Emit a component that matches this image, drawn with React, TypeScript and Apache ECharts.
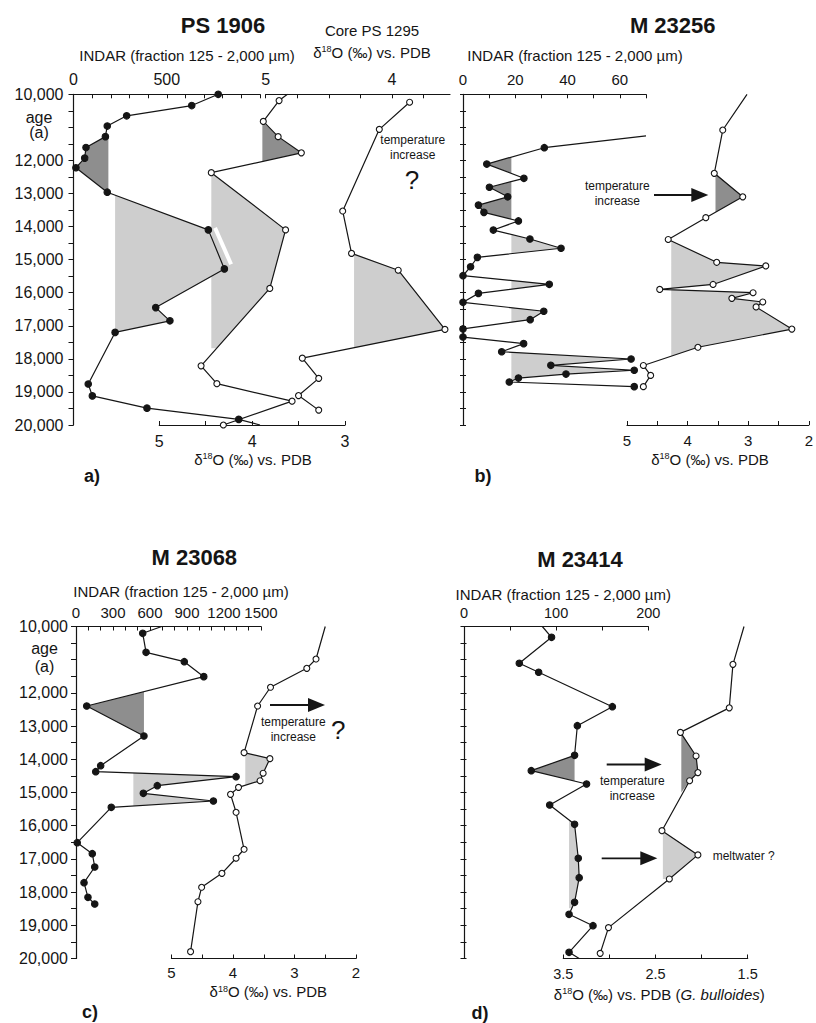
import React, { useEffect, useRef } from 'react';
import * as echarts from 'echarts';

const FONT = "'Liberation Sans', Arial, Helvetica, sans-serif";
const INK = '#151515';
const DARK = '#8e8e8e';
const LIGHT = '#cecece';

type Pt = [number, number];

// ---------- a) PS 1906 (INDAR + d18O) and PS 1295 (d18O) ----------
const ps1906IndarAge = [10000, 10340, 10650, 10960, 11280, 11610, 11930, 12220, 12960, 14100, 15280, 16450, 16850, 17200, 18760, 19120, 19490, 19830, 20000];
const ps1906Indar = [776, 634, 285, 181, 171, 67, 60, 13, 181, 723, 809, 441, 517, 223, 79, 101, 394, 886, 1000];
const ps1906D18Age = [10000, 10190, 10820, 11280, 11770, 12370, 14100, 15870, 18210, 18750, 19280, 20000];
const ps1906D18 = [3.62, 3.71, 3.88, 3.72, 3.47, 4.44, 3.64, 3.81, 4.55, 4.38, 3.57, 4.31];
const ps1295Age = [10240, 11060, 13530, 14810, 15320, 17110, 17980, 18590, 19110, 19550];
const ps1295D18 = [3.86, 4.10, 4.39, 4.32, 3.95, 3.58, 4.71, 4.58, 4.74, 4.58];

const ps1906IndarDark: Pt[] = [[187, 11280], [171, 11280], [67, 11610], [60, 11930], [13, 12220], [181, 12960], [187, 12960]];
const ps1906IndarLight: Pt[] = [[223, 13050], [723, 14100], [809, 15280], [441, 16450], [517, 16850], [223, 17200]];
const ps1906D18Dark: Pt[] = [[3.89, 10820], [3.72, 11280], [3.47, 11770], [3.89, 12030]];
const ps1906D18Light: Pt[] = [[4.44, 12370], [3.64, 14100], [3.81, 15870], [4.38, 17680], [4.44, 17680]];
const ps1295Light: Pt[] = [[4.30, 14810], [3.95, 15320], [3.58, 17110], [4.30, 17670]];
const ps1906Gap: Pt[] = [[759, 14040], [845, 15140]];

// ---------- b) M 23256 ----------
const m23256IndarAge = [11260, 11615, 12110, 12540, 12810, 13100, 13350, 13570, 13830, 14105, 14375, 14655, 14930, 15215, 15485, 15745, 16020, 16290, 16560, 16815, 17095, 17340, 17540, 17785, 18005, 18195, 18345, 18460, 18580, 18700, 18840];
const m23256Indar = [70, 31.1, 9.1, 23.3, 10.1, 17.1, 5.9, 8.0, 21.2, 11.6, 25.6, 37.5, 5.5, 2.9, 0, 33.0, 5.9, 0, 30.9, 25.7, 0, 0, 23.2, 14.8, 64.3, 33.6, 65.5, 39.4, 21.2, 17.7, 65.5];
const m23256D18Age = [10000, 11080, 12390, 13100, 13730, 14390, 15080, 15190, 15750, 15900, 16000, 16170, 16280, 16430, 17100, 17650, 18200, 18500, 18840];
const m23256D18 = [3.02, 3.42, 3.56, 3.09, 3.70, 4.32, 3.52, 2.71, 3.58, 4.46, 2.92, 3.27, 2.76, 2.87, 2.28, 3.83, 4.73, 4.61, 4.73];

const m23256IndarDark1: Pt[] = [[18.5, 11900], [9.1, 12110], [18.5, 12390]];
const m23256IndarDark2: Pt[] = [[18.5, 12640], [10.1, 12810], [17.1, 13100], [5.9, 13350], [8.0, 13570], [18.5, 13780]];
const m23256IndarLight1: Pt[] = [[18.5, 14240], [25.6, 14375], [37.5, 14655], [18.5, 14820]];
const m23256IndarLight2: Pt[] = [[18.5, 15630], [33.0, 15745], [18.5, 15890]];
const m23256IndarLight3: Pt[] = [[18.5, 16450], [30.9, 16560], [25.7, 16815], [18.5, 16900]];
const m23256IndarLight4: Pt[] = [[18.5, 17800], [64.3, 18005], [33.6, 18195], [65.5, 18345], [39.4, 18460], [21.2, 18580], [18.5, 18670]];
const m23256D18Dark: Pt[] = [[3.54, 12390], [3.09, 13100], [3.54, 13570]];
const m23256D18Light: Pt[] = [[4.27, 14430], [3.52, 15080], [2.71, 15190], [3.58, 15750], [4.27, 15865], [4.27, 15910], [2.92, 16000], [3.27, 16170], [2.76, 16280], [2.87, 16430], [2.28, 17100], [3.83, 17650], [4.27, 17920]];

// ---------- c) M 23068 ----------
const m23068IndarAge = [10000, 10205, 10777, 11060, 11511, 12395, 13298, 14193, 14373, 14524, 14795, 15024, 15256, 15446, 16512, 16843, 17244, 17717, 18157, 18358];
const m23068Indar = [695, 541, 568, 878, 1036, 87, 551, 200, 160, 1298, 659, 546, 1114, 286, 10, 132, 152, 65, 97, 152];
const m23068D18Age = [10000, 10980, 11260, 11830, 12395, 13800, 13980, 14420, 14645, 14845, 15055, 15595, 16710, 16980, 17435, 17855, 18290, 19795];
const m23068D18 = [2.50, 2.65, 2.80, 3.39, 3.60, 3.82, 3.40, 3.51, 3.56, 3.91, 4.04, 3.95, 3.82, 3.95, 4.18, 4.51, 4.57, 4.69];

const m23068IndarDark: Pt[] = [[551, 11963], [87, 12395], [551, 13298]];
const m23068IndarLight: Pt[] = [[465, 14413], [1298, 14524], [659, 14795], [546, 15024], [1114, 15256], [465, 15405]];
const m23068D18Light: Pt[] = [[3.80, 13800], [3.40, 13980], [3.51, 14420], [3.56, 14645], [3.80, 14780]];

// ---------- d) M 23414 ----------
const m23414IndarAge = [10000, 10325, 11108, 11379, 12416, 12988, 13880, 14343, 14744, 15376, 15958, 16982, 17566, 18307, 18669, 19012, 19813, 20000];
const m23414Indar = [85, 95, 60, 81, 161, 123, 120, 73, 133, 93, 120, 124, 125, 120, 114, 140, 114, 125];
const m23414D18Age = [10000, 11140, 12450, 13190, 13900, 14400, 14645, 16150, 16880, 17605, 19070, 19845];
const m23414D18 = [1.54, 1.66, 1.70, 2.23, 2.06, 2.04, 2.13, 2.43, 2.04, 2.35, 3.01, 3.10];

const m23414IndarDark: Pt[] = [[120, 13880], [73, 14343], [120, 14657]];
const m23414IndarLight: Pt[] = [[114, 15829], [120, 15958], [124, 16982], [125, 17566], [120, 18307], [117, 18488], [114, 18488]];
const m23414D18Dark: Pt[] = [[2.22, 13190], [2.06, 13900], [2.04, 14400], [2.13, 14645], [2.22, 15000]];
const m23414D18Light: Pt[] = [[2.42, 16150], [2.04, 16880], [2.35, 17605], [2.42, 17605]];

// ---------- axis ticks ----------
// 11,000 is left unlabelled: the "age (a)" caption sits there
const ageLabels = [10000, 12000, 13000, 14000, 15000, 16000, 17000, 18000, 19000, 20000];
const ageTicks = [10000, 10500, 11000, 11500, 12000, 12500, 13000, 13500, 14000, 14500, 15000, 15500, 16000, 16500, 17000, 17500, 18000, 18500, 19000, 19500, 20000];
const indarATicks = [0, 100, 200, 300, 400, 500, 600, 700, 800, 900, 1000];
const indarALabels = [0, 500];
const d18ATicks = [3, 3.5, 4, 4.5, 5];
const d18ALabels = [3, 4, 5];
const ps1295Ticks = [3.75, 4, 4.25, 4.5, 4.75, 5];
const ps1295Labels = [4, 5];
const indarBTicks = [0, 10, 20, 30, 40, 50, 60, 70];
const indarBLabels = [0, 20, 40, 60];
const d18BTicks = [2, 2.5, 3, 3.5, 4, 4.5, 5];
const d18BLabels = [2, 3, 4, 5];
const indarCTicks = [0, 100, 200, 300, 400, 500, 600, 700, 800, 900, 1000, 1100, 1200, 1300, 1400, 1500];
const indarCLabels = [0, 300, 600, 900, 1200, 1500];
const indarDTicks = [0, 50, 100, 150, 200];
const indarDLabels = [0, 100, 200];
const d18DTicks = [1.5, 2, 2.5, 3, 3.5];
const d18DLabels = [1.5, 2.5, 3.5];

// ---------- layout (grid boxes in px) ----------
const TOP_A = 94.3, H_A = 330.7;
const TOP_C = 626.5, H_C = 332;
const grids = [
  { left: 73.5, top: TOP_A, width: 186.5, height: H_A }, // 0 a INDAR
  { left: 159.3, top: TOP_A, width: 185.7, height: H_A }, // 1 a d18O PS 1906
  { left: 265.7, top: TOP_A, width: 184.3, height: H_A }, // 2 a d18O PS 1295
  { left: 463, top: TOP_A, width: 183, height: H_A }, // 3 b INDAR
  { left: 466, top: TOP_A, width: 10, height: H_A }, // 4 b tick column
  { left: 627, top: TOP_A, width: 186, height: H_A }, // 5 b d18O
  { left: 76, top: TOP_C, width: 185, height: H_C }, // 6 c INDAR
  { left: 171.5, top: TOP_C, width: 184.5, height: H_C }, // 7 c d18O
  { left: 464, top: TOP_C, width: 184.3, height: H_C }, // 8 d INDAR
  { left: 466.5, top: TOP_C, width: 10, height: H_C }, // 9 d tick column
  { left: 563.3, top: TOP_C, width: 184.4, height: H_C }, // 10 d d18O
];

const plain = (v: number) => String(v);

function xAx(grid: number, o: any) {
  if (o.hidden) return { type: 'value', gridIndex: grid, show: false, min: 0, max: 1 };
  return {
    type: 'value', gridIndex: grid, position: o.pos, min: o.min, max: o.max, inverse: !!o.inverse,
    axisLine: { show: true, onZero: false, lineStyle: { color: INK, width: 1.2 } },
    axisTick: { show: true, inside: true, length: 4, customValues: o.ticks, lineStyle: { color: INK, width: 1 } },
    axisLabel: { show: true, customValues: o.labels, margin: o.margin ?? 7, fontSize: o.fs ?? 15, color: INK, fontFamily: FONT, formatter: plain },
    splitLine: { show: false },
  };
}

function yAx(grid: number, mode: 'labels' | 'line' | 'ticks' | 'hidden', margin = 8) {
  const base: any = { type: 'value', gridIndex: grid, min: 10000, max: 20000, inverse: true, splitLine: { show: false } };
  if (mode === 'hidden') return { ...base, show: false };
  return {
    ...base,
    position: 'left',
    axisLine: { show: mode !== 'ticks', onZero: false, lineStyle: { color: INK, width: 1.2 } },
    axisTick: { show: mode !== 'line', inside: false, length: mode === 'ticks' ? 6 : 5, customValues: ageTicks, lineStyle: { color: INK, width: 1 } },
    axisLabel: {
      show: mode === 'labels', customValues: ageLabels, margin, fontSize: 16, color: INK, fontFamily: FONT,
      formatter: (v: number) => `${Math.floor(v / 1000)},${String(v % 1000).padStart(3, '0')}`,
    },
  };
}

function curve(axis: number, values: number[], ages: number[], filled: boolean, bare: number[] = []) {
  return {
    type: 'line', xAxisIndex: axis, yAxisIndex: axis,
    data: values.map((v, i) => (bare.includes(i) ? { value: [v, ages[i]], symbol: 'none' } : [v, ages[i]])),
    symbol: 'circle', symbolSize: filled ? 6.5 : 6, showSymbol: true, showAllSymbol: true,
    lineStyle: { color: INK, width: 1.2 },
    itemStyle: { color: filled ? INK : '#ffffff', borderColor: INK, borderWidth: 1.1 },
    clip: false, silent: true, z: 5,
  };
}

function shade(axis: number, pts: Pt[], fill: string) {
  return {
    type: 'custom', xAxisIndex: axis, yAxisIndex: axis, data: pts, silent: true, z: 1, clip: false,
    renderItem: (params: any, api: any) =>
      params.dataIndex === 0
        ? { type: 'polygon', shape: { points: pts.map((p) => api.coord(p)) }, style: { fill, stroke: 'none' } }
        : null,
  };
}

function whiteStroke(axis: number, pts: Pt[]) {
  return {
    type: 'line', xAxisIndex: axis, yAxisIndex: axis, data: pts, symbol: 'none',
    lineStyle: { color: '#ffffff', width: 4 }, clip: false, silent: true, z: 3,
  };
}

function txt(x: number, y: number, text: string, size: number, extra: any = {}) {
  return {
    type: 'text', x, y, silent: true,
    style: { text, fontSize: size, fontFamily: FONT, fill: INK, align: 'center', verticalAlign: 'middle', textAlign: 'center', textVerticalAlign: 'middle', ...extra },
  };
}

function deltaTitle(x: number, y: number, italicPart?: string) {
  const n = { fontSize: 15, fontFamily: FONT, fill: INK, color: INK };
  const text = italicPart
    ? '{n|δ}{s|18}{n|O (‰) vs. PDB (}{i|' + italicPart + '}{n|)}'
    : '{n|δ}{s|18}{n|O (‰) vs. PDB}';
  return {
    type: 'text', x, y, silent: true,
    style: {
      text, align: 'center', verticalAlign: 'middle', textAlign: 'center', textVerticalAlign: 'middle',
      rich: {
        n,
        s: { fontSize: 9, fontFamily: FONT, fill: INK, color: INK, verticalAlign: 'top' },
        i: { ...n, fontStyle: 'italic' },
      },
    },
  };
}

function arrow(x1: number, x2: number, y: number) {
  return [
    { type: 'line', silent: true, shape: { x1, y1: y, x2: x2 - 12, y2: y }, style: { stroke: INK, lineWidth: 1.8 } },
    { type: 'polygon', silent: true, shape: { points: [[x2, y], [x2 - 17, y - 7], [x2 - 17, y + 7]] }, style: { fill: INK } },
  ];
}

export default function App() {
  const ref = useRef<HTMLDivElement>(null);

  useEffect(() => {
    if (!ref.current) return;
    const chart = echarts.init(ref.current, undefined, { renderer: 'svg' });

    const xAxis = [
      xAx(0, { pos: 'top', min: 0, max: 1000, ticks: indarATicks, labels: indarALabels, fs: 16 }),
      xAx(1, { pos: 'bottom', min: 3, max: 5, inverse: true, ticks: d18ATicks, labels: d18ALabels, fs: 16, margin: 8 }),
      xAx(2, { pos: 'top', min: 3.54, max: 5, inverse: true, ticks: ps1295Ticks, labels: ps1295Labels, fs: 16 }),
      xAx(3, { pos: 'top', min: 0, max: 70, ticks: indarBTicks, labels: indarBLabels, fs: 15 }),
      xAx(4, { hidden: true }),
      xAx(5, { pos: 'bottom', min: 2, max: 5, inverse: true, ticks: d18BTicks, labels: d18BLabels, fs: 15, margin: 8 }),
      xAx(6, { pos: 'top', min: 0, max: 1500, ticks: indarCTicks, labels: indarCLabels, fs: 15 }),
      xAx(7, { pos: 'bottom', min: 2, max: 5, inverse: true, ticks: d18BTicks, labels: d18BLabels, fs: 15, margin: 6 }),
      xAx(8, { pos: 'top', min: 0, max: 200, ticks: indarDTicks, labels: indarDLabels, fs: 14.5, margin: 6 }),
      xAx(9, { hidden: true }),
      xAx(10, { pos: 'bottom', min: 1.5, max: 3.5, inverse: true, ticks: d18DTicks, labels: d18DLabels, fs: 14.5, margin: 8 }),
    ];

    const yAxis = [
      yAx(0, 'labels', 10),
      yAx(1, 'hidden'),
      yAx(2, 'hidden'),
      yAx(3, 'line'),
      yAx(4, 'ticks'),
      yAx(5, 'hidden'),
      yAx(6, 'labels', 8),
      yAx(7, 'hidden'),
      yAx(8, 'line'),
      yAx(9, 'ticks'),
      yAx(10, 'hidden'),
    ];

    const series: any[] = [
      // a)
      shade(0, ps1906IndarDark, DARK),
      shade(0, ps1906IndarLight, LIGHT),
      shade(1, ps1906D18Dark, DARK),
      shade(1, ps1906D18Light, LIGHT),
      shade(2, ps1295Light, LIGHT),
      whiteStroke(0, ps1906Gap),
      curve(0, ps1906Indar, ps1906IndarAge, true, [18]),
      curve(1, ps1906D18, ps1906D18Age, false, [0]),
      curve(2, ps1295D18, ps1295Age, false),
      // b)
      shade(3, m23256IndarDark1, DARK),
      shade(3, m23256IndarDark2, DARK),
      shade(3, m23256IndarLight1, LIGHT),
      shade(3, m23256IndarLight2, LIGHT),
      shade(3, m23256IndarLight3, LIGHT),
      shade(3, m23256IndarLight4, LIGHT),
      shade(5, m23256D18Dark, DARK),
      shade(5, m23256D18Light, LIGHT),
      curve(3, m23256Indar, m23256IndarAge, true, [0]),
      curve(5, m23256D18, m23256D18Age, false, [0]),
      // c)
      shade(6, m23068IndarDark, DARK),
      shade(6, m23068IndarLight, LIGHT),
      shade(7, m23068D18Light, LIGHT),
      curve(6, m23068Indar, m23068IndarAge, true, [0]),
      curve(7, m23068D18, m23068D18Age, false, [0]),
      // d)
      shade(8, m23414IndarDark, DARK),
      shade(8, m23414IndarLight, LIGHT),
      shade(10, m23414D18Dark, DARK),
      shade(10, m23414D18Light, LIGHT),
      curve(8, m23414Indar, m23414IndarAge, true, [0, 17]),
      curve(10, m23414D18, m23414D18Age, false, [0]),
    ];

    const indarTitle = 'INDAR (fraction 125 - 2,000 µm)';
    const graphic: any[] = [
      // a)
      txt(223, 25, 'PS 1906', 22, { fontWeight: 'bold' }),
      txt(187, 55, indarTitle, 15),
      txt(372, 30, 'Core PS 1295', 15),
      deltaTitle(372, 52),
      txt(39, 117, 'age', 16),
      txt(39, 132, '(a)', 16),
      txt(412.7, 140, 'temperature', 12),
      txt(412.7, 155, 'increase', 12),
      txt(412, 180, '?', 26),
      deltaTitle(253, 459),
      txt(92, 476, 'a)', 18, { fontWeight: 'bold' }),
      // b)
      txt(672.7, 25, 'M 23256', 22, { fontWeight: 'bold' }),
      txt(575, 55, indarTitle, 15),
      txt(617.3, 186, 'temperature', 12),
      txt(617.3, 201, 'increase', 12),
      ...arrow(654, 708.3, 195),
      deltaTitle(710, 459),
      txt(483, 476, 'b)', 18, { fontWeight: 'bold' }),
      // c)
      txt(194.3, 557.7, 'M 23068', 22, { fontWeight: 'bold' }),
      txt(181, 591.7, indarTitle, 15),
      txt(44.5, 648, 'age', 16),
      txt(44.5, 666.7, '(a)', 16),
      ...arrow(270, 325, 705),
      txt(293.3, 721.7, 'temperature', 12),
      txt(293.3, 737.3, 'increase', 12),
      txt(338.3, 730, '?', 26),
      deltaTitle(268.3, 991.7),
      txt(90, 1011.7, 'c)', 18, { fontWeight: 'bold' }),
      // d)
      txt(580, 559, 'M 23414', 22, { fontWeight: 'bold' }),
      txt(563.3, 594, indarTitle, 15),
      ...arrow(606.7, 661.7, 764.5),
      txt(632.3, 780.7, 'temperature', 12),
      txt(632.3, 795.7, 'increase', 12),
      ...arrow(601.7, 657.3, 858.3),
      txt(712.7, 856, 'meltwater ?', 12, { align: 'left', textAlign: 'left' }),
      deltaTitle(659.3, 994.3, 'G. bulloides'),
      txt(480, 1013, 'd)', 18, { fontWeight: 'bold' }),
    ];

    chart.setOption({
      animation: false,
      backgroundColor: '#ffffff',
      textStyle: { fontFamily: FONT },
      grid: grids.map((g) => ({ ...g, containLabel: false })),
      xAxis,
      yAxis,
      series,
      graphic: { elements: graphic },
    });

    return () => chart.dispose();
  }, []);

  return (
    <div
      ref={ref}
      style={{ position: 'absolute', left: 0, top: 0, width: 816, height: 1023, background: '#ffffff' }}
    />
  );
}
